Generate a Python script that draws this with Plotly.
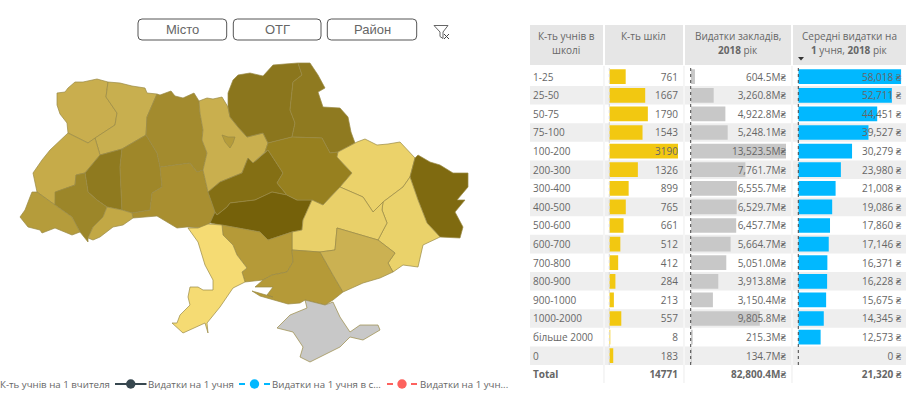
import plotly.graph_objects as go

W = 917
H = 402
FONT = "Open Sans"
TEXT = "#666666"

# table data
rows = ["1-25", "25-50", "50-75", "75-100", "100-200", "200-300", "300-400", "400-500", "500-600",
        "600-700", "700-800", "800-900", "900-1000", "1000-2000", "більше 2000", "0", "Total"]
schools = [761, 1667, 1790, 1543, 3190, 1326, 899, 765, 661, 512, 412, 284, 213, 557, 8, 183]
spending = [604.5, 3260.8, 4922.8, 5248.1, 13523.5, 7761.7, 6555.7, 6529.7, 6457.7, 5664.7, 5051.0,
            3913.8, 3150.4, 9805.8, 215.3, 134.7]
per_student = [58018, 52711, 44451, 39527, 30279, 23980, 21008, 19086, 17860, 17146, 16371, 16228,
               15675, 14345, 12573, 0]
total_schools = 14771
total_spending = 82800.4
total_per_student = 21320

legend_labels = ["К-ть учнів на 1 вчителя", "Видатки на 1 учня", "Видатки на 1 учня в с...", "Видатки на 1 учн..."]
legend_colors = ["#37474f", "#01b8ff", "#fd625e"]
buttons = ["Місто", "ОТГ", "Район"]

# map outlines, picture coordinates
volyn = [(57,93),(65,92),(68,88),(75,82),(83,82),(97,79),(108,82),(106,97),(111,104),(117,113),(115,125),(95,138),(88,143),(78,138),(68,133),(67,123),(60,114),(57,105)]
rivne = [(108,82),(120,83),(132,86),(145,88),(147,93),(157,94),(147,117),(146,135),(122,149),(100,155),(95,138),(115,125),(117,113),(111,104),(106,97)]
lviv = [(68,133),(78,138),(88,143),(95,138),(100,155),(85,173),(76,175),(75,185),(56,192),(55,205),(37,192),(33,173),(42,160),(50,150),(60,140)]
ternopil = [(100,155),(122,149),(120,167),(122,210),(107,207),(97,200),(88,192),(85,173)]
khmelnytskyi = [(122,149),(146,135),(157,153),(160,167),(162,187),(152,193),(150,210),(132,213),(122,210),(120,167)]
zhytomyr = [(157,94),(160,95),(171,91),(175,96),(183,98),(187,96),(194,93),(199,101),(200,113),(203,130),(202,140),(207,153),(203,170),(197,172),(190,163),(160,167),(157,153),(146,135),(147,117)]
vinnytsia = [(160,167),(190,163),(197,172),(203,170),(208,192),(215,212),(210,223),(203,228),(187,227),(177,228),(157,216),(133,218),(132,213),(150,210),(152,193),(162,187)]
frankivsk = [(55,192),(75,185),(76,175),(85,173),(88,192),(97,200),(107,207),(103,217),(93,227),(88,238),(88,242),(80,232),(72,217),(55,205)]
zakarpattia = [(32,192),(37,192),(55,205),(72,217),(80,232),(72,235),(55,228),(42,233),(40,230),(28,227),(20,217),(25,210),(30,197)]
chernivtsi = [(107,207),(122,210),(132,213),(133,218),(123,225),(113,227),(100,237),(93,240),(88,238),(93,227),(103,217)]
kyiv = [(199,101),(207,98),(213,99),(222,97),(228,107),(230,117),(238,127),(247,137),(263,133),(268,143),(265,152),(253,163),(248,158),(242,173),(220,182),(208,192),(203,170),(207,153),(202,140),(203,130),(200,113)]
kyiv_city = [(222,135),(228,137),(235,137),(233,143),(230,148),(225,142)]
cherkasy = [(208,192),(220,182),(242,173),(248,158),(253,163),(265,152),(268,150),(283,173),(277,183),(287,195),(272,192),(255,200),(230,203),(227,207),(217,215),(215,212)]
kirovohrad = [(210,223),(215,212),(217,215),(227,207),(230,203),(255,200),(272,192),(287,195),(297,200),(312,200),(303,220),(302,230),(292,232),(268,240),(260,232),(222,225)]
chernihiv = [(228,93),(233,80),(238,75),(250,73),(263,76),(273,65),(285,64),(298,63),(302,75),(293,82),(290,110),(295,123),(292,137),(268,143),(263,133),(247,137),(238,127),(230,117),(228,107)]
sumy = [(298,63),(310,63),(318,75),(325,88),(318,92),(323,107),(340,108),(348,117),(351,132),(355,143),(338,152),(330,153),(322,138),(292,137),(295,123),(290,110),(293,82),(302,75)]
poltava = [(268,143),(292,137),(322,138),(330,153),(338,152),(337,157),(352,173),(340,187),(323,205),(312,200),(297,200),(287,195),(277,183),(283,173),(268,150),(265,152)]
kharkiv = [(338,152),(357,142),(365,139),(377,145),(388,144),(400,142),(415,158),(410,177),(403,187),(383,202),(373,212),(363,197),(340,187),(352,173),(337,157)]
luhansk = [(415,158),(418,155),(430,162),(440,165),(453,173),(468,173),(468,187),(457,200),(465,200),(455,212),(463,227),(460,238),(440,237),(427,223),(418,200),(410,177)]
donetsk = [(403,187),(410,177),(418,200),(427,223),(440,237),(423,245),(418,267),(403,265),(393,272),(388,263),(395,253),(378,240),(387,223),(382,210),(383,202)]
dnipro = [(323,205),(340,187),(363,197),(373,212),(383,202),(382,210),(387,223),(378,240),(337,228),(335,250),(320,252),(292,250),(292,232),(302,230),(303,220),(312,200)]
mykolaiv = [(222,225),(260,232),(268,240),(292,232),(292,250),(293,262),(287,272),(272,275),(263,280),(245,282),(242,272),(247,268),(237,255),(233,245),(223,235)]
odesa = [(188,228),(198,228),(208,224),(222,225),(223,235),(233,245),(237,255),(247,268),(242,272),(245,282),(233,288),(220,307),(207,323),(208,333),(205,323),(183,333),(172,323),(177,323),(180,315),(190,305),(188,297),(190,287),(198,287),(203,290),(213,290),(213,280),(205,265),(198,242)]
kherson = [(292,250),(320,252),(333,275),(343,292),(333,300),(325,305),(305,300),(300,303),(288,304),(273,300),(260,296),(252,291),(262,294),(273,297),(267,295),(273,287),(255,287),(263,280),(272,275),(287,272),(293,262)]
zaporizhzhia = [(320,252),(335,250),(337,228),(378,240),(395,253),(388,263),(393,272),(380,278),(363,283),(343,292),(333,275)]
crimea = [(305,300),(325,305),(333,302),(340,317),(350,332),(360,325),(378,325),(380,330),(363,340),(350,337),(340,347),(318,358),(310,362),(300,357),(303,347),(293,332),(277,328),(290,315),(307,308)]

regions = [
    ("Волинська", volyn, "#c9ae4e"), ("Рівненська", rivne, "#c8af4f"), ("Львівська", lviv, "#c6ab49"),
    ("Тернопільська", ternopil, "#8f7a1f"), ("Хмельницька", khmelnytskyi, "#9f8729"),
    ("Житомирська", zhytomyr, "#a38b2e"), ("Вінницька", vinnytsia, "#a98f30"),
    ("Івано-Франківська", frankivsk, "#9c8629"), ("Закарпатська", zakarpattia, "#b59c3b"),
    ("Чернівецька", chernivtsi, "#c2a845"), ("Київська", kyiv, "#c9af4e"), ("Київ", kyiv_city, "#b59c3b"),
    ("Черкаська", cherkasy, "#846f14"), ("Кіровоградська", kirovohrad, "#75610a"),
    ("Чернігівська", chernihiv, "#8b761d"), ("Сумська", sumy, "#8f7a20"), ("Полтавська", poltava, "#97801f"),
    ("Харківська", kharkiv, "#ebd26a"), ("Луганська", luhansk, "#7f6a10"), ("Донецька", donetsk, "#ead26a"),
    ("Дніпропетровська", dnipro, "#e9d069"), ("Миколаївська", mykolaiv, "#b59a38"), ("Одеська", odesa, "#f5db73"),
    ("Херсонська", kherson, "#b59a38"), ("Запорізька", zaporizhzhia, "#cbb152"), ("Крим", crimea, "#c8c8c8"),
]


def px(x):
    return x / W


def py(y):
    return 1 - y / H


fig = go.Figure()

# map
for name, outline, color in regions:
    xs = [p[0] for p in outline] + [outline[0][0]]
    ys = [p[1] for p in outline] + [outline[0][1]]
    fig.add_trace(go.Scatter(x=xs, y=ys, name=name, mode="lines", fill="toself", fillcolor=color,
                             line=dict(color="#9a8a45", width=0.7),
                             hoverinfo="name", showlegend=False))

# table columns, bars first and value labels on top
top_row = 67.4
row_h = 18.6
text_shift = 1.4
columns = [
    ("x2", schools, "#f2c811", 609.3, 678),
    ("x3", spending, "#c8c8c8", 690.7, 786),
    ("x4", per_student, "#01b8ff", 798.3, 901.3),
]
for axis, values, color, left, right in columns:
    fig.add_trace(go.Bar(x=values, y=rows[:-1], xaxis=axis, yaxis="y2", orientation="h",
                         marker=dict(color=color, line=dict(width=0)), showlegend=False))
    fig.update_layout({"xaxis" + axis[1:]: dict(domain=[px(left), px(right)], range=[0, max(values)],
                                                 visible=False, anchor="y2")})

cell_font = dict(family=FONT, size=10, color=TEXT)
fig.add_trace(go.Scatter(x=[0] * len(rows), y=rows, xaxis="x5", yaxis="y3", mode="text",
                         text=rows[:-1] + ["<b>Total</b>"], textposition="middle right",
                         textfont=cell_font, cliponaxis=False, showlegend=False, hoverinfo="skip"))
fig.update_layout(xaxis5=dict(domain=[px(533), px(600)], range=[0, 1], visible=False, anchor="y3"))

cells = [
    ("x2", schools, [str(v) for v in schools] + ["<b>%d</b>" % total_schools]),
    ("x3", spending, ["{:,.1f}M₴".format(v) for v in spending] + ["<b>{:,.1f}M₴</b>".format(total_spending)]),
    ("x4", per_student, ["{:,} ₴".format(v) for v in per_student] + ["<b>{:,} ₴</b>".format(total_per_student)]),
]
for axis, values, labels in cells:
    fig.add_trace(go.Scatter(x=[max(values)] * len(rows), y=rows, xaxis=axis, yaxis="y3", mode="text",
                             text=labels, textposition="middle left", textfont=cell_font,
                             cliponaxis=False, showlegend=False, hoverinfo="skip"))

shapes = []
annotations = []

# header band and row stripes
shapes.append(dict(type="rect", xref="paper", yref="paper", x0=px(530), x1=px(906), y0=py(65), y1=py(25),
                   fillcolor="#e6e6e6", line_width=0, layer="below"))
for i in range(1, 16, 2):
    shapes.append(dict(type="rect", xref="paper", yref="y2", x0=px(530), x1=px(906), y0=i - 0.5, y1=i + 0.5,
                       fillcolor="#eeeeee", line_width=0, layer="below"))
for x in [604, 684, 792]:
    shapes.append(dict(type="line", xref="paper", yref="paper", x0=px(x), x1=px(x), y0=py(383), y1=py(25),
                       line=dict(color="#ffffff", width=2), layer="below"))
    shapes.append(dict(type="line", xref="paper", yref="paper", x0=px(x), x1=px(x), y0=py(383), y1=py(66),
                       line=dict(color="#e4e4e4", width=0.7), layer="below"))
for axis, color in [("x2", "#d8d8d8"), ("x3", "#444444"), ("x4", "#444444")]:
    shapes.append(dict(type="line", xref=axis + " domain", yref="paper", x0=0, x1=0, y0=py(365), y1=py(66),
                       line=dict(color=color, width=1, dash="dot")))

header_font = dict(family=FONT, size=10, color=TEXT)
headers = [
    (566, ["К-ть учнів в", "школі"]),
    (643, ["К-ть шкіл"]),
    (738, ["Видатки закладів,", "<b>2018</b> рік"]),
    (849, ["Середні видатки на", "<b>1</b> учня, <b>2018</b> рік"]),
]
for x, lines in headers:
    for line_y, label in zip([35.7, 50], lines):
        annotations.append(dict(xref="paper", yref="paper", x=px(x), y=py(line_y), text=label, showarrow=False,
                                xanchor="center", yanchor="middle", font=header_font))
shapes.append(dict(type="path", xref="x", yref="y", path="M 798,57 L 804,57 L 801,60.5 Z",
                   fillcolor="#333333", line_width=0))

# slicer buttons and the clear filter icon
button_boxes = [(138, 226.7), (233.3, 321), (327.3, 416.7)]
for label, (x0, x1) in zip(buttons, button_boxes):
    y0, y1, r = 19, 40, 4
    path = ("M %f,%f L %f,%f Q %f,%f %f,%f L %f,%f Q %f,%f %f,%f L %f,%f Q %f,%f %f,%f L %f,%f Q %f,%f %f,%f Z"
            % (x0 + r, y0, x1 - r, y0, x1, y0, x1, y0 + r, x1, y1 - r, x1, y1, x1 - r, y1,
               x0 + r, y1, x0, y1, x0, y1 - r, x0, y0 + r, x0, y0, x0 + r, y0))
    shapes.append(dict(type="path", xref="x", yref="y", path=path, line=dict(color="#555555", width=1)))
    annotations.append(dict(xref="x", yref="y", x=(x0 + x1) / 2, y=29.5, text=label, showarrow=False,
                            font=dict(family="Liberation Sans", size=13, color=TEXT)))
shapes.append(dict(type="path", xref="x", yref="y", path="M 434,25.5 L 448,25.5 L 443,32 L 443,38.5 L 440,36.5 L 440,32 Z",
                   line=dict(color="#666666", width=1)))
shapes.append(dict(type="path", xref="x", yref="y", path="M 444,34 L 449,39 M 449,34 L 444,39",
                   line=dict(color="#444444", width=1)))

# line chart legend strip under the map
legend_y = 384
legend_font = dict(family=FONT, size=9.7, color=TEXT)
annotations.append(dict(xref="x", yref="y", x=0, y=legend_y, xshift=-2, text=legend_labels[0], showarrow=False,
                        xanchor="left", font=legend_font))
keys = [(115, 146.5, 146, None), (239, 270, 270, "dash"), (387, 417, 417.5, "dash")]
for (x0, x1, text_x, dash), label, color in zip(keys, legend_labels[1:], legend_colors):
    if dash:
        shapes.append(dict(type="line", xref="x", yref="y", x0=x0, x1=x0 + 6, y0=legend_y, y1=legend_y,
                           line=dict(color=color, width=2)))
        shapes.append(dict(type="line", xref="x", yref="y", x0=x1 - 6, x1=x1, y0=legend_y, y1=legend_y,
                           line=dict(color=color, width=2)))
    else:
        shapes.append(dict(type="line", xref="x", yref="y", x0=x0, x1=x1, y0=legend_y, y1=legend_y,
                           line=dict(color=color, width=2)))
    shapes.append(dict(type="circle", xref="x", yref="y", x0=(x0 + x1) / 2 - 4.7, x1=(x0 + x1) / 2 + 4.7,
                       y0=legend_y - 4.7, y1=legend_y + 4.7, fillcolor=color, line_width=0))
    annotations.append(dict(xref="x", yref="y", x=text_x, y=legend_y, text=label, showarrow=False,
                            xanchor="left", font=legend_font))

fig.update_layout(
    width=W,
    height=H,
    margin=dict(l=0, r=0, t=0, b=0),
    paper_bgcolor="white",
    plot_bgcolor="rgba(0,0,0,0)",
    bargap=0.21,
    xaxis=dict(domain=[0, 1], range=[0, W], visible=False, fixedrange=True),
    yaxis=dict(domain=[0, 1], range=[H, 0], visible=False, fixedrange=True),
    yaxis2=dict(domain=[py(top_row + 17 * row_h), py(top_row)], type="category", categoryorder="array",
                categoryarray=rows, range=[16.5, -0.5], visible=False, anchor="x2"),
    yaxis3=dict(domain=[py(top_row + text_shift + 17 * row_h), py(top_row + text_shift)], type="category",
                categoryorder="array", categoryarray=rows, range=[16.5, -0.5], visible=False, anchor="x5"),
    shapes=shapes,
    annotations=annotations,
    font=dict(family=FONT),
)

fig.write_html("out.html", config={"displayModeBar": False},
               post_script="document.body.style.margin='0';")
